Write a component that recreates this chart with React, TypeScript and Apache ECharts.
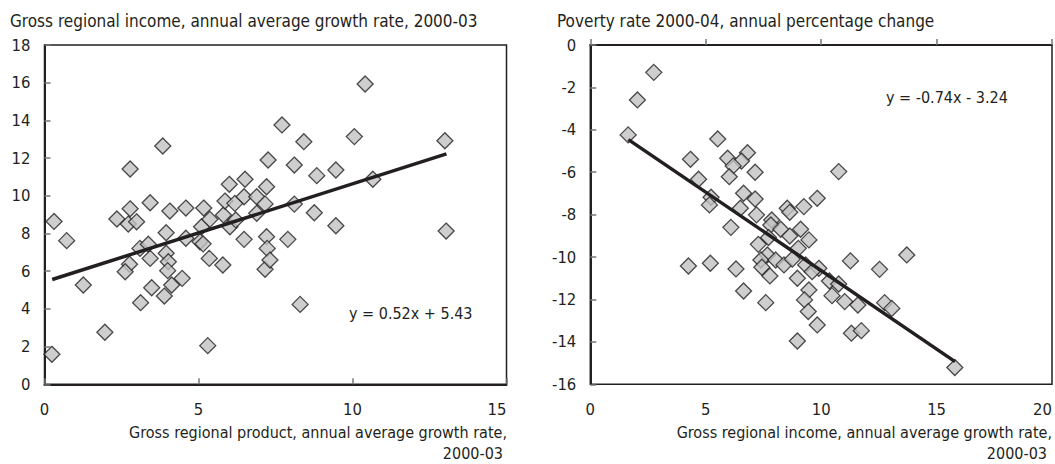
import React, { useEffect, useRef } from "react";
import * as echarts from "echarts";

// Left panel: GDP growth (x) vs gross regional income growth (y)
const leftPoints: [number, number][] = [
  [0.24, 1.59], [0.31, 8.64], [0.72, 7.62], [1.26, 5.27], [1.96, 2.76], [2.35, 8.77],
  [2.72, 8.5], [2.99, 8.62], [2.78, 9.31], [2.78, 11.42], [3.84, 12.64], [3.43, 9.63],
  [4.07, 9.19], [4.59, 9.35], [5.17, 9.35], [3.95, 8.04], [4.59, 7.75], [3.1, 7.21],
  [3.37, 7.43], [3.43, 6.68], [3.95, 6.95], [4.02, 6.5], [4.0, 6.03], [2.76, 6.37],
  [2.62, 5.97], [3.48, 5.12], [4.13, 5.27], [4.47, 5.62], [3.89, 4.68], [3.12, 4.33],
  [5.3, 2.05], [5.1, 8.36], [5.37, 8.75], [5.05, 7.56], [5.15, 7.45], [5.35, 6.68],
  [5.79, 6.33], [5.81, 8.98], [6.02, 8.36], [6.21, 8.72], [6.48, 7.69], [6.89, 9.07],
  [7.21, 7.83], [7.23, 7.21], [7.16, 6.1], [7.32, 6.59], [6.0, 10.61], [6.51, 10.88],
  [5.86, 9.72], [6.18, 9.6], [6.48, 9.95], [6.89, 9.95], [7.16, 9.57], [7.21, 10.48],
  [7.26, 11.9], [10.41, 15.93], [7.71, 13.76], [10.06, 13.14], [13.0, 12.92], [8.42, 12.87],
  [8.11, 11.63], [8.84, 11.07], [9.46, 11.37], [10.66, 10.88], [8.11, 9.56], [8.76, 9.1],
  [9.46, 8.41], [7.9, 7.69], [8.3, 4.24], [13.04, 8.13],
];
const leftTrend: [number, number][] = [[0.25, 5.56], [13.05, 12.22]];

// Right panel: income growth (x) vs poverty rate change (y)
const rightPoints: [number, number][] = [
  [2.75, -1.29], [2.04, -2.59], [1.64, -4.24], [5.52, -4.43], [4.34, -5.39], [5.95, -5.34],
  [6.81, -5.08], [6.55, -5.47], [6.19, -5.7], [7.14, -6.0], [6.02, -6.21], [4.69, -6.33],
  [5.23, -7.18], [5.16, -7.54], [6.64, -6.99], [7.14, -7.26], [6.5, -7.7], [7.2, -8.01],
  [8.53, -7.7], [8.64, -7.89], [9.25, -7.62], [9.83, -7.23], [7.86, -8.25], [4.25, -10.42],
  [5.2, -10.29], [6.31, -10.56], [6.64, -11.6], [7.6, -12.15], [6.09, -8.6], [7.82, -8.49],
  [8.25, -8.69], [8.64, -9.01], [9.11, -8.69], [9.47, -9.19], [7.28, -9.4], [7.72, -9.08],
  [9.01, -9.59], [7.67, -9.9], [7.39, -10.14], [8.03, -10.14], [8.39, -10.37], [8.75, -10.1],
  [7.43, -10.48], [7.78, -10.89], [8.97, -11.0], [9.47, -11.55], [9.28, -12.02], [9.44, -12.57],
  [9.83, -13.2], [8.97, -13.96], [9.9, -10.53], [9.33, -10.37], [9.61, -10.69], [11.27, -10.18],
  [12.53, -10.58], [13.71, -9.9], [10.36, -11.13], [10.76, -11.27], [10.47, -11.82], [11.02, -12.1],
  [11.59, -12.26], [12.75, -12.15], [13.06, -12.42], [11.31, -13.59], [11.74, -13.47], [15.79, -15.21],
  [10.76, -5.97],
];
const rightTrend: [number, number][] = [[1.65, -4.46], [15.8, -14.93]];

const leftTitle = "Gross regional income, annual average growth rate, 2000-03";
const rightTitle = "Poverty rate 2000-04, annual percentage change";
const leftXName = ["Gross regional product, annual average growth rate,", "2000-03"];
const rightXName = ["Gross regional income, annual average growth rate,", "2000-03"];
const leftEq = "y = 0.52x + 5.43";
const rightEq = "y = -0.74x - 3.24";

const FONT_FAMILY = '"Liberation Sans Narrow", "DejaVu Sans Condensed", Roboto, sans-serif';
const FS = 16;
const INK = "#231f20";

export default function App() {
  const ref = useRef<HTMLDivElement>(null);
  useEffect(() => {
    const chart = echarts.init(ref.current!, null, { renderer: "svg" });
    const label = { fontSize: 16.5, fontFamily: FONT_FAMILY, color: INK };
    const axisLine = { show: true, lineStyle: { color: INK, width: 2 } };
    const axisTick = { show: true, inside: true, length: 6, lineStyle: { color: "#777", width: 1.5 } };
    const xAx = (gi: number, max: number) => ({
      gridIndex: gi, type: "value", min: 0, max, interval: 5,
      axisLine, axisTick, splitLine: { show: false },
      axisLabel: { ...label, margin: 17, alignMaxLabel: "right" },
    });
    const yAx = (gi: number, min: number, max: number) => ({
      gridIndex: gi, type: "value", min, max, interval: 2,
      axisLine, axisTick, splitLine: { show: false },
      axisLabel: { ...label, margin: 14 },
    });
    const scatterStyle = { color: "#c2c2c2", borderColor: INK, borderWidth: 1.3 };
    const text = (t: string, pos: any, size = FS) => ({
      type: "text", ...pos, silent: true,
      style: { text: t, font: `${size}px ${FONT_FAMILY}`, fill: INK },
    });
    chart.setOption({
      animation: false,
      grid: [
        { left: 44.5, top: 45, width: 462, height: 339.3, show: true, borderColor: INK, borderWidth: 1.5 },
        { left: 590.3, top: 45, width: 462, height: 339.3, show: true, borderColor: INK, borderWidth: 1.5 },
      ],
      xAxis: [xAx(0, 15), xAx(1, 20)],
      yAxis: [yAx(0, 0, 18), yAx(1, -16, 0)],
      series: [
        { type: "scatter", xAxisIndex: 0, yAxisIndex: 0, symbol: "diamond", symbolSize: 16, itemStyle: scatterStyle, data: leftPoints },
        { type: "line", xAxisIndex: 0, yAxisIndex: 0, showSymbol: false, silent: true, lineStyle: { color: INK, width: 3.5 }, data: leftTrend },
        { type: "scatter", xAxisIndex: 1, yAxisIndex: 1, symbol: "diamond", symbolSize: 16, itemStyle: scatterStyle, data: rightPoints },
        { type: "line", xAxisIndex: 1, yAxisIndex: 1, showSymbol: false, silent: true, lineStyle: { color: INK, width: 3.5 }, data: rightTrend },
      ],
      graphic: [
        text(leftTitle, { left: 10, top: 12 }, 17),
        text(rightTitle, { left: 557, top: 12 }, 17),
        text(leftXName[0], { right: 1055 - 507, top: 424 }),
        text(leftXName[1], { right: 1055 - 503, top: 445 }),
        text(rightXName[0], { right: 1055 - 1052, top: 424 }),
        text(rightXName[1], { right: 1055 - 1047, top: 445 }),
        text(leftEq, { left: 349, top: 305 }),
        text(rightEq, { left: 886, top: 89 }),
      ],
    });
    return () => chart.dispose();
  }, []);
  return <div ref={ref} style={{ position: "absolute", left: 0, top: 0, width: 1055, height: 464 }} />;
}
